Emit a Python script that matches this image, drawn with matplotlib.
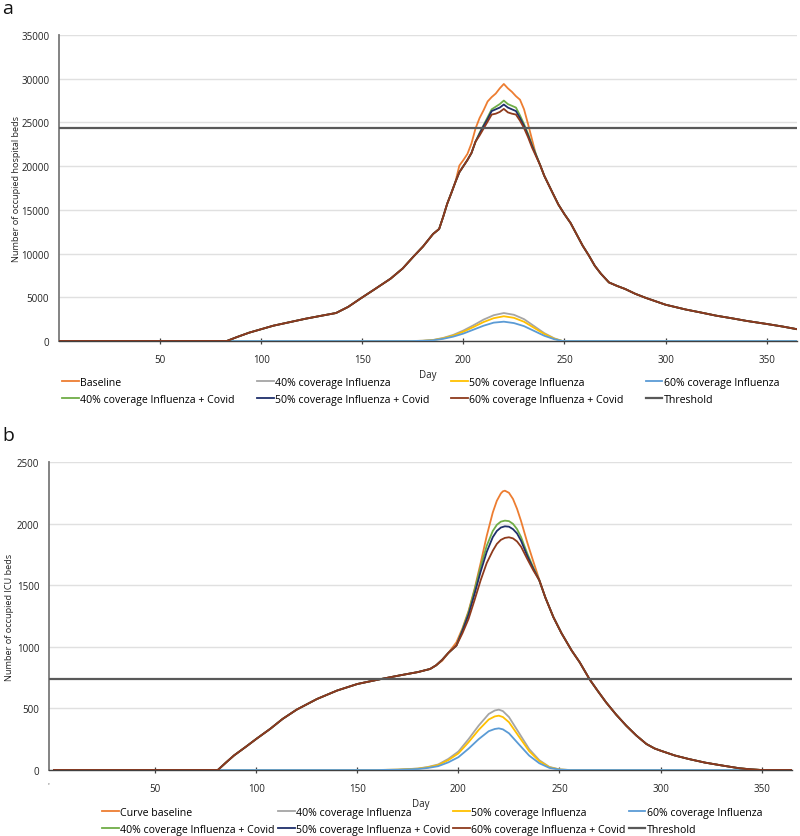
import matplotlib
matplotlib.use("Agg")
import matplotlib.pyplot as plt

# ---------------- Panel a data (hospital beds) ----------------
a_days_covid_pre = [0, 83, 88, 94, 100, 106, 114, 122, 130, 137, 143, 149, 156, 164, 170, 175, 180, 185, 188, 190, 192, 194, 196, 198, 200, 202, 204, 206]
a_vals_covid_pre = [0, 0, 450, 950, 1350, 1750, 2150, 2550, 2900, 3200, 3900, 4840, 5900, 7130, 8300, 9580, 10800, 12240, 12810, 14200, 15700, 16900, 18150, 19300, 20000, 20700, 21500, 22800]

a_days_peak = [208, 210, 212, 214, 216, 218, 220, 222, 224, 226, 228, 230, 232, 234, 236, 238]
a_brown_peak = [23500, 24300, 25100, 25900, 26000, 26200, 26550, 26150, 26000, 25900, 25200, 24350, 23300, 22100, 21100, 20100]
a_navy_peak = [23700, 24600, 25400, 26300, 26500, 26700, 27050, 26700, 26500, 26300, 25500, 24600, 23500, 22300, 21200, 20100]
a_green_peak = [23800, 24700, 25600, 26500, 26800, 27100, 27500, 27100, 26900, 26700, 25800, 24800, 23700, 22400, 21300, 20100]

a_days_orange_peak = [198, 200, 202, 204, 206, 208, 210, 212, 214, 216, 218, 220, 222, 224, 226, 228, 230, 232, 234, 236, 238, 240]
a_orange_peak = [20060, 20700, 21400, 22600, 24300, 25500, 26400, 27400, 27900, 28300, 28900, 29400, 28900, 28500, 28000, 27600, 26500, 24800, 23000, 21200, 20100, 18900]

a_days_post = [240, 244, 247, 250, 253, 256, 259, 262, 265, 268, 272, 276, 280, 285, 290, 295, 300, 310, 317, 325, 333, 340, 350, 358, 365]
a_vals_post = [18900, 17000, 15600, 14500, 13500, 12200, 10900, 9800, 8600, 7700, 6700, 6300, 5950, 5400, 4950, 4550, 4150, 3600, 3280, 2900, 2590, 2300, 1950, 1650, 1350]

a_days_flu = [83, 175, 180, 185, 190, 195, 200, 205, 210, 215, 220, 225, 230, 235, 240, 245, 249, 365]
a_flu40 = [0, 0, 30, 120, 350, 700, 1200, 1800, 2450, 2950, 3200, 3000, 2500, 1700, 900, 300, 0, 0]
a_flu50 = [0, 0, 25, 100, 310, 620, 1060, 1600, 2170, 2610, 2830, 2650, 2200, 1500, 800, 260, 0, 0]
a_flu60 = [0, 0, 20, 80, 250, 500, 850, 1300, 1750, 2100, 2210, 2050, 1700, 1150, 600, 200, 0, 0]
a_threshold = 24350

# ---------------- Panel b data (ICU beds) ----------------
b_days_covid_pre = [0, 81, 85, 89, 95, 100, 107, 113, 120, 130, 140, 150, 161, 171, 180, 186, 189, 192, 195, 199]
b_vals_covid_pre = [0, 0, 60, 118, 190, 252, 335, 414, 490, 576, 645, 698, 736, 768, 795, 820, 850, 895, 950, 1010]

b_days_peak = [202, 205, 208, 211, 214, 217, 219, 221, 223, 225, 227, 229, 231, 234, 237, 240]
b_brown_peak = [1110, 1226, 1380, 1540, 1680, 1780, 1835, 1868, 1884, 1889, 1880, 1855, 1812, 1715, 1622, 1540]
b_navy_peak = [1130, 1260, 1430, 1610, 1770, 1890, 1940, 1968, 1978, 1975, 1955, 1920, 1860, 1740, 1635, 1540]
b_green_peak = [1140, 1280, 1460, 1650, 1820, 1940, 1990, 2016, 2024, 2020, 1998, 1955, 1890, 1760, 1645, 1540]

b_days_orange_peak = [189, 192, 195, 199, 202, 205, 208, 211, 214, 217, 219, 221, 222, 223, 225, 227, 229, 231, 234, 237, 240]
b_orange_peak = [850, 887, 950, 1036, 1150, 1290, 1470, 1680, 1900, 2090, 2185, 2245, 2262, 2267, 2250, 2200, 2120, 2020, 1850, 1695, 1545]

b_days_post = [243, 247, 251, 256, 260, 265, 269, 273, 278, 283, 288, 293, 297, 300, 307, 314, 322, 331, 339, 345, 350, 365]
b_vals_post = [1400, 1240, 1110, 970, 874, 733, 640, 550, 450, 360, 280, 211, 175, 157, 118, 89, 60, 35, 14, 5, 0, 0]

b_days_flu = [81, 160, 170, 180, 185, 190, 195, 200, 205, 210, 215, 218, 220, 222, 225, 230, 235, 240, 245, 250, 255, 365]
b_flu40 = [0, 0, 3, 12, 25, 45, 90, 150, 250, 360, 455, 483, 490, 478, 430, 300, 170, 80, 25, 5, 0, 0]
b_flu50 = [0, 0, 3, 11, 22, 40, 80, 135, 225, 325, 410, 435, 441, 430, 388, 270, 153, 72, 22, 4, 0, 0]
b_flu60 = [0, 0, 2, 8, 17, 31, 62, 104, 173, 250, 315, 333, 338, 330, 298, 207, 117, 55, 17, 3, 0, 0]
b_threshold = 738

labels_a = ["Baseline", "40% coverage Influenza", "50% coverage Influenza", "60% coverage Influenza",
            "40% coverage Influenza + Covid", "50% coverage Influenza + Covid", "60% coverage Influenza + Covid", "Threshold"]
labels_b = ["Curve baseline"] + labels_a[1:]

colors = {
    "base": "#ED7D31", "f40": "#A5A5A5", "f50": "#FFC000", "f60": "#5B9BD5",
    "c40": "#70AD47", "c50": "#1F2F6B", "c60": "#8E3A1C", "thr": "#595959",
}

FONT = ["Open Sans", "DejaVu Sans"]
plt.rcParams["font.family"] = FONT

fig = plt.figure(figsize=(8.0, 8.37), dpi=100)
W, H = 800.0, 837.0


def make_axes(left, right, top, bottom):
    return fig.add_axes([left / W, 1 - bottom / H, (right - left) / W, (bottom - top) / H])


def concat(*parts):
    d, v = [], []
    for dd, vv in parts:
        d += list(dd)
        v += list(vv)
    return d, v


def draw_panel(ax, pre, peaks, orange_peak, post, flu_days, flus, thr, ylim, yticks, xlim, ylabel, labels,
               legend_x, legend_y, colsp, ylabelpad):
    lw = 1.3
    d_pre, v_pre = pre
    od, ov = orange_peak
    pre_d = [x for x in d_pre if x < od[0]]
    pre_v = [v for x, v in zip(d_pre, v_pre) if x < od[0]]
    bd, bv = concat((pre_d, pre_v), orange_peak, post)
    lines = []
    l, = ax.plot(bd, bv, color=colors["base"], lw=lw, zorder=3)
    lines.append(l)
    for key, fv in zip(["f40", "f50", "f60"], flus):
        l, = ax.plot(flu_days, fv, color=colors[key], lw=lw, zorder=3)
        lines.append(l)
    pd_, pk = peaks
    for key, pv in zip(["c40", "c50", "c60"], pk):
        cd, cv = concat((d_pre, v_pre), (pd_, pv), post)
        l, = ax.plot(cd, cv, color=colors[key], lw=lw, zorder=3)
        lines.append(l)
    l = ax.axhline(thr, color=colors["thr"], lw=1.6, zorder=4)
    lines.append(l)

    ax.set_xlim(*xlim)
    ax.set_ylim(*ylim)
    ax.set_yticks(yticks)
    ax.set_xticks([50, 100, 150, 200, 250, 300, 350])
    ax.grid(axis="y", color="#e0e0e0", lw=1.0, zorder=0)
    ax.set_axisbelow(True)
    for s in ["top", "right"]:
        ax.spines[s].set_visible(False)
    ax.spines["left"].set_color("#7a7a7a")
    ax.spines["left"].set_linewidth(1.3)
    ax.spines["bottom"].set_color("#404040")
    ax.spines["bottom"].set_linewidth(1.0)
    ax.tick_params(axis="y", length=0, pad=7, labelsize=7, labelcolor="#222222")
    ax.tick_params(axis="x", direction="inout", length=5, width=0.9, color="#404040", pad=7,
                   labelsize=7, labelcolor="#222222")
    ax.set_ylabel(ylabel, fontsize=6.6, color="#222222", labelpad=ylabelpad)
    ax.set_xlabel("Day", fontsize=7, color="#222222", labelpad=3)
    # row-major ordering for a 2x4 legend
    order = [0, 4, 1, 5, 2, 6, 3, 7]
    fig.legend([lines[i] for i in order], [labels[i] for i in order], loc="upper left",
               bbox_to_anchor=(legend_x / W, 1 - legend_y / H),
               ncol=4, frameon=False, fontsize=7.6, handlelength=1.6, handletextpad=0.1,
               columnspacing=colsp, labelspacing=0.55, borderpad=0, borderaxespad=0)


ax_a = make_axes(59, 797, 36, 342)
draw_panel(ax_a,
           (a_days_covid_pre, a_vals_covid_pre),
           (a_days_peak, [a_green_peak, a_navy_peak, a_brown_peak]),
           (a_days_orange_peak, a_orange_peak),
           (a_days_post, a_vals_post),
           a_days_flu, [a_flu40, a_flu50, a_flu60], a_threshold,
           (0, 35000), list(range(0, 35001, 5000)), (0, 365),
           "Number of occupied hospital beds", labels_a, 62, 378, 2.1, 0)

ax_b = make_axes(49, 792, 463, 771)
draw_panel(ax_b,
           (b_days_covid_pre, b_vals_covid_pre),
           (b_days_peak, [b_green_peak, b_navy_peak, b_brown_peak]),
           (b_days_orange_peak, b_orange_peak),
           (b_days_post, b_vals_post),
           b_days_flu, [b_flu40, b_flu50, b_flu60], b_threshold,
           (0, 2500), list(range(0, 2501, 500)), (-2.5, 365),
           "Number of occupied ICU beds", labels_b, 102, 808, 0.3, 2)

fig.text(2 / W, 1 - 14 / H, "a", fontsize=14, color="#111111", ha="left", va="baseline")
fig.text(2 / W, 1 - 441 / H, "b", fontsize=14, color="#111111", ha="left", va="baseline")
fig.text(48 / W, 1 - 786 / H, "'", fontsize=6, color="#555555", ha="center", va="center")

fig.savefig("out.png", dpi=100, facecolor="white")
